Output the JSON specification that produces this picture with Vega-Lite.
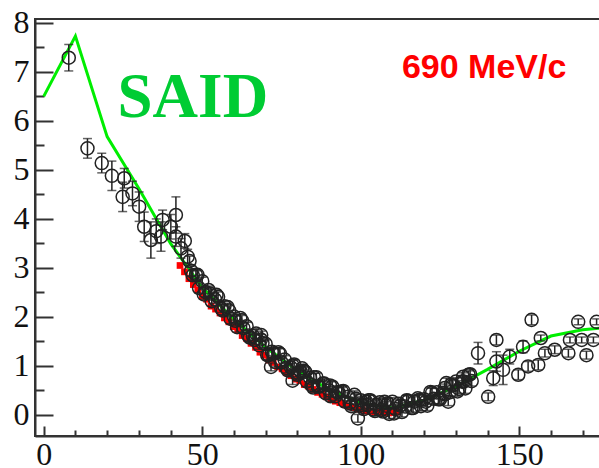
{
  "$schema": "https://vega.github.io/schema/vega-lite/v6.json",
  "width": 573,
  "height": 417,
  "autosize": {"type": "none"},
  "padding": {"left": 35, "top": 19, "right": 0, "bottom": 32},
  "background": "white",
  "config": {"view": {"stroke": "#333", "strokeWidth": 2}},
  "datasets": {
    "said": [
      {"x": 0, "y": 6.5}, {"x": 10, "y": 7.73}, {"x": 20, "y": 5.68}, {"x": 30, "y": 4.62},
      {"x": 40, "y": 3.5}, {"x": 50, "y": 2.6}, {"x": 60, "y": 1.95}, {"x": 70, "y": 1.38},
      {"x": 80, "y": 0.9}, {"x": 90, "y": 0.52}, {"x": 100, "y": 0.25}, {"x": 110, "y": 0.14},
      {"x": 120, "y": 0.3}, {"x": 130, "y": 0.58}, {"x": 140, "y": 0.93}, {"x": 150, "y": 1.3},
      {"x": 160, "y": 1.61}, {"x": 170, "y": 1.74}, {"x": 180, "y": 1.8}
    ],
    "red": [
      {"x": 43.0, "y": 3.05}, {"x": 44.4, "y": 2.92}, {"x": 45.8, "y": 2.78}, {"x": 47.2, "y": 2.66},
      {"x": 48.6, "y": 2.55}, {"x": 50.0, "y": 2.42}, {"x": 51.4, "y": 2.36}, {"x": 52.8, "y": 2.22},
      {"x": 54.2, "y": 2.16}, {"x": 55.6, "y": 2.08}, {"x": 57.0, "y": 1.98}, {"x": 58.4, "y": 1.9},
      {"x": 59.8, "y": 1.8}, {"x": 61.2, "y": 1.74}, {"x": 62.6, "y": 1.62}, {"x": 64.0, "y": 1.56},
      {"x": 65.4, "y": 1.46}, {"x": 66.8, "y": 1.38}, {"x": 68.2, "y": 1.28}, {"x": 69.6, "y": 1.22},
      {"x": 71.0, "y": 1.12}, {"x": 72.4, "y": 1.07}, {"x": 73.8, "y": 0.98}, {"x": 75.2, "y": 0.94},
      {"x": 76.6, "y": 0.86}, {"x": 78.0, "y": 0.8}, {"x": 79.4, "y": 0.73}, {"x": 80.8, "y": 0.7},
      {"x": 82.2, "y": 0.62}, {"x": 83.6, "y": 0.58}, {"x": 85.0, "y": 0.52}, {"x": 86.4, "y": 0.46},
      {"x": 87.8, "y": 0.42}, {"x": 89.2, "y": 0.37}, {"x": 90.6, "y": 0.33}, {"x": 92.0, "y": 0.28},
      {"x": 93.4, "y": 0.25}, {"x": 94.8, "y": 0.21}, {"x": 96.2, "y": 0.18}, {"x": 97.6, "y": 0.15},
      {"x": 99.0, "y": 0.12}, {"x": 100.4, "y": 0.11}, {"x": 101.8, "y": 0.08}, {"x": 103.2, "y": 0.07},
      {"x": 104.6, "y": 0.06}, {"x": 106.0, "y": 0.05}, {"x": 107.4, "y": 0.05}, {"x": 108.8, "y": 0.04},
      {"x": 110.2, "y": 0.05}, {"x": 111.6, "y": 0.06}
    ],
    "black": [
      {"x": 7.9, "y": 7.29, "e": 0.27}, {"x": 13.8, "y": 5.44, "e": 0.2}, {"x": 18.3, "y": 5.14, "e": 0.2},
      {"x": 21.5, "y": 4.88, "e": 0.3}, {"x": 24.9, "y": 4.45, "e": 0.3}, {"x": 25.4, "y": 4.83, "e": 0.2},
      {"x": 28.0, "y": 4.52, "e": 0.25}, {"x": 30.1, "y": 4.25, "e": 0.3}, {"x": 31.7, "y": 3.84, "e": 0.3},
      {"x": 33.8, "y": 3.57, "e": 0.37}, {"x": 35.5, "y": 3.75, "e": 0.25}, {"x": 37.0, "y": 3.64, "e": 0.3},
      {"x": 37.5, "y": 3.98, "e": 0.2}, {"x": 40.1, "y": 3.84, "e": 0.25}, {"x": 41.7, "y": 4.08, "e": 0.37},
      {"x": 41.7, "y": 3.64, "e": 0.2}, {"x": 43.3, "y": 3.4, "e": 0.2}, {"x": 44.5, "y": 3.55, "e": 0.15},
      {"x": 45.4, "y": 3.23, "e": 0.15},
      {"x": 46, "y": 3.14, "e": 0.1}, {"x": 47, "y": 2.85, "e": 0.1}, {"x": 48, "y": 2.86, "e": 0.08},
      {"x": 49, "y": 2.59, "e": 0.1}, {"x": 50, "y": 2.73, "e": 0.08}, {"x": 51, "y": 2.51, "e": 0.1},
      {"x": 52, "y": 2.55, "e": 0.08}, {"x": 53, "y": 2.32, "e": 0.1}, {"x": 54, "y": 2.36, "e": 0.08},
      {"x": 55, "y": 2.41, "e": 0.1}, {"x": 56, "y": 2.17, "e": 0.08}, {"x": 57, "y": 2.22, "e": 0.1},
      {"x": 58, "y": 2.2, "e": 0.08}, {"x": 59, "y": 1.96, "e": 0.1}, {"x": 60, "y": 2.01, "e": 0.08},
      {"x": 61, "y": 1.79, "e": 0.1}, {"x": 62, "y": 1.98, "e": 0.08}, {"x": 63, "y": 1.77, "e": 0.1},
      {"x": 64, "y": 1.81, "e": 0.08}, {"x": 65, "y": 1.58, "e": 0.1}, {"x": 66, "y": 1.61, "e": 0.08},
      {"x": 67, "y": 1.66, "e": 0.1}, {"x": 68, "y": 1.42, "e": 0.08}, {"x": 68.6, "y": 1.63, "e": 0.08},
      {"x": 69, "y": 1.47, "e": 0.1}, {"x": 70, "y": 1.45, "e": 0.08}, {"x": 71, "y": 1.22, "e": 0.1},
      {"x": 71.7, "y": 0.98, "e": 0.08}, {"x": 72, "y": 1.29, "e": 0.08}, {"x": 73, "y": 1.08, "e": 0.1},
      {"x": 74, "y": 1.28, "e": 0.08}, {"x": 75, "y": 1.07, "e": 0.1}, {"x": 76, "y": 1.13, "e": 0.08},
      {"x": 77, "y": 0.91, "e": 0.1}, {"x": 78, "y": 0.97, "e": 0.08}, {"x": 78.5, "y": 0.7, "e": 0.08},
      {"x": 79, "y": 1.03, "e": 0.1}, {"x": 80, "y": 0.82, "e": 0.08}, {"x": 81, "y": 0.89, "e": 0.1},
      {"x": 81.5, "y": 0.95, "e": 0.08}, {"x": 82, "y": 0.9, "e": 0.08}, {"x": 83, "y": 0.68, "e": 0.1},
      {"x": 84, "y": 0.76, "e": 0.08}, {"x": 85, "y": 0.56, "e": 0.1}, {"x": 85.2, "y": 0.77, "e": 0.08},
      {"x": 86, "y": 0.77, "e": 0.08}, {"x": 87, "y": 0.58, "e": 0.1}, {"x": 88, "y": 0.64, "e": 0.08},
      {"x": 89, "y": 0.44, "e": 0.1}, {"x": 90, "y": 0.5, "e": 0.08}, {"x": 90.3, "y": 0.6, "e": 0.08},
      {"x": 91, "y": 0.58, "e": 0.1}, {"x": 92, "y": 0.38, "e": 0.08}, {"x": 93, "y": 0.46, "e": 0.1},
      {"x": 94, "y": 0.48, "e": 0.08}, {"x": 95, "y": 0.27, "e": 0.1}, {"x": 96, "y": 0.37, "e": 0.08},
      {"x": 97, "y": 0.18, "e": 0.1}, {"x": 98, "y": 0.41, "e": 0.08}, {"x": 99, "y": 0.22, "e": 0.1},
      {"x": 99.1, "y": -0.07, "e": 0.08}, {"x": 100, "y": 0.3, "e": 0.08}, {"x": 101, "y": 0.12, "e": 0.1},
      {"x": 101.7, "y": 0.27, "e": 0.08}, {"x": 102, "y": 0.2, "e": 0.08}, {"x": 103, "y": 0.3, "e": 0.1},
      {"x": 104, "y": 0.11, "e": 0.08}, {"x": 105, "y": 0.21, "e": 0.1}, {"x": 106, "y": 0.26, "e": 0.08},
      {"x": 107, "y": 0.07, "e": 0.1}, {"x": 107.5, "y": 0.27, "e": 0.08}, {"x": 108, "y": 0.19, "e": 0.08},
      {"x": 109, "y": 0.02, "e": 0.1}, {"x": 110, "y": 0.27, "e": 0.08}, {"x": 111, "y": 0.12, "e": 0.1},
      {"x": 112, "y": 0.23, "e": 0.08}, {"x": 113, "y": 0.06, "e": 0.1}, {"x": 114, "y": 0.17, "e": 0.08},
      {"x": 115, "y": 0.29, "e": 0.1}, {"x": 116, "y": 0.14, "e": 0.08}, {"x": 117, "y": 0.27, "e": 0.1},
      {"x": 118, "y": 0.34, "e": 0.08}, {"x": 119, "y": 0.18, "e": 0.1}, {"x": 120, "y": 0.32, "e": 0.08},
      {"x": 121, "y": 0.19, "e": 0.1}, {"x": 122, "y": 0.47, "e": 0.08}, {"x": 123, "y": 0.33, "e": 0.1},
      {"x": 124, "y": 0.46, "e": 0.08}, {"x": 125, "y": 0.32, "e": 0.1}, {"x": 126, "y": 0.45, "e": 0.08},
      {"x": 126.5, "y": 0.55, "e": 0.08}, {"x": 127, "y": 0.65, "e": 0.1}, {"x": 127.6, "y": 0.27, "e": 0.08},
      {"x": 128, "y": 0.46, "e": 0.08}, {"x": 129, "y": 0.6, "e": 0.1}, {"x": 130, "y": 0.68, "e": 0.08},
      {"x": 131, "y": 0.53, "e": 0.1}, {"x": 132, "y": 0.68, "e": 0.08}, {"x": 132.3, "y": 0.78, "e": 0.08},
      {"x": 133, "y": 0.54, "e": 0.1}, {"x": 134, "y": 0.82, "e": 0.08}, {"x": 135, "y": 0.69, "e": 0.1},
      {"x": 46.5, "y": 2.94, "e": 0.1}, {"x": 48.5, "y": 2.86, "e": 0.1}, {"x": 50.5, "y": 2.46, "e": 0.1},
      {"x": 52.5, "y": 2.48, "e": 0.1}, {"x": 54.5, "y": 2.45, "e": 0.1}, {"x": 56.5, "y": 2.13, "e": 0.1},
      {"x": 58.5, "y": 2.13, "e": 0.1}, {"x": 60.5, "y": 1.92, "e": 0.1}, {"x": 62.5, "y": 1.93, "e": 0.1},
      {"x": 64.5, "y": 1.62, "e": 0.1}, {"x": 66.5, "y": 1.53, "e": 0.1}, {"x": 68.5, "y": 1.54, "e": 0.1},
      {"x": 70.5, "y": 1.22, "e": 0.1}, {"x": 72.5, "y": 1.26, "e": 0.1}, {"x": 74.5, "y": 1.25, "e": 0.1},
      {"x": 76.5, "y": 0.96, "e": 0.1}, {"x": 78.5, "y": 1.01, "e": 0.1}, {"x": 80.5, "y": 0.84, "e": 0.1},
      {"x": 82.5, "y": 0.88, "e": 0.1}, {"x": 84.5, "y": 0.61, "e": 0.1}, {"x": 86.5, "y": 0.58, "e": 0.1},
      {"x": 88.5, "y": 0.64, "e": 0.1}, {"x": 90.5, "y": 0.38, "e": 0.1}, {"x": 92.5, "y": 0.46, "e": 0.1},
      {"x": 94.5, "y": 0.49, "e": 0.1}, {"x": 96.5, "y": 0.24, "e": 0.1}, {"x": 98.5, "y": 0.33, "e": 0.1},
      {"x": 100.5, "y": 0.2, "e": 0.1}, {"x": 102.5, "y": 0.3, "e": 0.1}, {"x": 104.5, "y": 0.08, "e": 0.1},
      {"x": 106.5, "y": 0.1, "e": 0.1}, {"x": 108.5, "y": 0.24, "e": 0.1}, {"x": 110.5, "y": 0.03, "e": 0.1},
      {"x": 112.5, "y": 0.19, "e": 0.1}, {"x": 114.5, "y": 0.3, "e": 0.1}, {"x": 116.5, "y": 0.14, "e": 0.1},
      {"x": 118.5, "y": 0.31, "e": 0.1}, {"x": 120.5, "y": 0.27, "e": 0.1}, {"x": 122.5, "y": 0.45, "e": 0.1},
      {"x": 124.5, "y": 0.32, "e": 0.1}, {"x": 126.5, "y": 0.42, "e": 0.1}, {"x": 128.5, "y": 0.62, "e": 0.1},
      {"x": 130.5, "y": 0.48, "e": 0.1}, {"x": 132.5, "y": 0.68, "e": 0.1}, {"x": 134.5, "y": 0.83, "e": 0.1},
      {"x": 137.0, "y": 1.26, "e": 0.22}, {"x": 140.2, "y": 0.37, "e": 0.08}, {"x": 141.8, "y": 0.75, "e": 0.15},
      {"x": 142.8, "y": 1.09, "e": 0.2}, {"x": 142.8, "y": 1.53, "e": 0.1}, {"x": 144.9, "y": 0.92, "e": 0.3},
      {"x": 147.0, "y": 1.19, "e": 0.15}, {"x": 149.7, "y": 0.82, "e": 0.1}, {"x": 151.2, "y": 1.39, "e": 0.12},
      {"x": 152.8, "y": 0.99, "e": 0.1}, {"x": 153.9, "y": 1.94, "e": 0.1}, {"x": 156.0, "y": 1.02, "e": 0.1},
      {"x": 156.8, "y": 1.57, "e": 0.06}, {"x": 158.1, "y": 1.26, "e": 0.08}, {"x": 161.2, "y": 1.33, "e": 0.08},
      {"x": 165.5, "y": 1.26, "e": 0.08}, {"x": 166.0, "y": 1.53, "e": 0.06}, {"x": 168.6, "y": 1.9, "e": 0.06},
      {"x": 169.7, "y": 1.53, "e": 0.06}, {"x": 171.2, "y": 1.22, "e": 0.08}, {"x": 173.4, "y": 1.53, "e": 0.06},
      {"x": 174.4, "y": 1.9, "e": 0.06}
    ]
  },
  "encoding": {
    "x": {
      "field": "x", "type": "quantitative",
      "scale": {"domain": [-2.75, 178], "nice": false, "zero": false},
      "axis": {
        "title": null, "grid": false,
        "values": [0, 10, 20, 30, 40, 50, 60, 70, 80, 90, 100, 110, 120, 130, 140, 150, 160, 170],
        "labelExpr": "datum.value % 50 === 0 ? format(datum.value, 'd') : ''",
        "tickSize": {"condition": {"test": "datum.value % 50 === 0", "value": -10}, "value": -6},
        "tickColor": "#333", "tickWidth": 2,
        "domainColor": "#333", "domainWidth": 2,
        "labelFont": "Liberation Serif", "labelFontSize": 32, "labelColor": "#111",
        "labelPadding": 13, "labelOverlap": false, "labelFlush": false
      }
    },
    "y": {
      "field": "y", "type": "quantitative",
      "scale": {"domain": [-0.43, 8.08], "nice": false, "zero": false},
      "axis": {
        "title": null, "grid": false,
        "values": [0, 0.5, 1, 1.5, 2, 2.5, 3, 3.5, 4, 4.5, 5, 5.5, 6, 6.5, 7, 7.5, 8],
        "labelExpr": "datum.value % 1 === 0 ? format(datum.value, 'd') : ''",
        "tickSize": {"condition": {"test": "datum.value % 1 === 0", "value": -18}, "value": -9},
        "tickColor": "#333", "tickWidth": 2,
        "domainColor": "#333", "domainWidth": 2,
        "labelFont": "Liberation Serif", "labelFontSize": 32, "labelColor": "#111",
        "labelPadding": 24, "labelOverlap": false, "labelFlush": false
      }
    }
  },
  "layer": [
    {
      "data": {"name": "said"},
      "mark": {"type": "line", "color": "#00ee00", "strokeWidth": 3, "clip": true}
    },
    {
      "data": {"name": "red"},
      "mark": {"type": "point", "shape": "square", "filled": true, "color": "#ff0000", "size": 45, "opacity": 1}
    },
    {
      "data": {"name": "black"},
      "mark": {"type": "errorbar", "ticks": {"size": 9, "thickness": 1.5, "color": "#222"}, "rule": {"strokeWidth": 1.5, "color": "#222"}, "clip": true},
      "encoding": {"yError": {"field": "e"}}
    },
    {
      "data": {"name": "black"},
      "mark": {"type": "point", "shape": "circle", "filled": false, "stroke": "#222", "strokeWidth": 1.5, "size": 170, "opacity": 1, "clip": true}
    },
    {
      "data": {"values": [{"x": 23.3, "y": 6.09, "label": "SAID"}]},
      "mark": {"type": "text", "align": "left", "baseline": "alphabetic", "font": "Liberation Serif", "fontWeight": "bold", "fontSize": 63, "color": "#00cc33"},
      "encoding": {"text": {"field": "label"}}
    },
    {
      "data": {"values": [{"x": 113.0, "y": 6.87, "label": "690 MeV/c"}]},
      "mark": {"type": "text", "align": "left", "baseline": "alphabetic", "font": "Liberation Sans", "fontWeight": "bold", "fontSize": 34, "color": "#ff0000"},
      "encoding": {"text": {"field": "label"}}
    }
  ]
}
